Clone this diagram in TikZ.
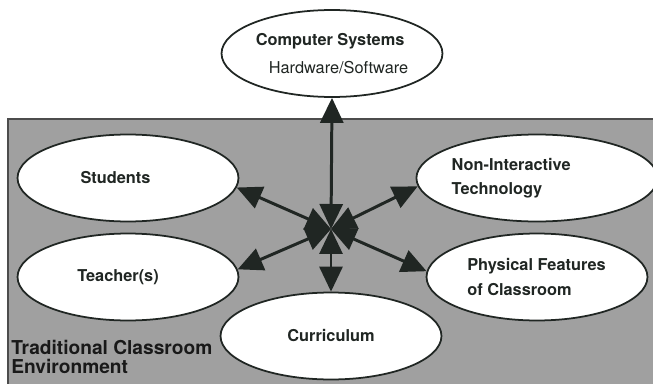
\documentclass[tikz,border=0pt]{standalone}
\usepackage{fontspec}
\setmainfont{TeX Gyre Heros}
\usetikzlibrary{shapes.geometric,arrows.meta}
\definecolor{roomgray}{RGB}{160,160,160}
\definecolor{inkdark}{RGB}{32,38,35}
\tikzset{
  part/.style={ellipse,draw=inkdark,line width=1pt,fill=white,minimum width=4.42cm,
    minimum height=1.74cm,inner sep=0pt,align=left,text=inkdark,
    font=\fontsize{9.3}{14}\selectfont\bfseries},
  link/.style={{Triangle[length=0.5cm,width=0.46cm]}-{Triangle[length=0.5cm,width=0.46cm]},
    line width=1.7pt,draw=inkdark}
}

\begin{document}
\begin{tikzpicture}[x=0.02cm,y=0.02cm]
        \useasboundingbox (0,0) rectangle (653,383);
        % classroom area
        \fill[roomgray,draw=black!70,line width=0.9pt] (8,264) rectangle (655,-2);
        \node[anchor=south west,inner sep=0pt,align=left,text=black!90,
              font=\fontsize{10.9}{10.6}\selectfont\bfseries] (room) at (11,9)
              {Traditional Classroom\\Environment};
        % parts of the environment
        \node[part,font=\fontsize{9.3}{16}\selectfont\bfseries] (sys) at (332,329.5)
              {Computer Systems\\\hspace*{0.26cm}\mdseries Hardware/Software};
        \node[part] (stu) at (128,205) {Students\hspace*{0.5cm}};
        \node[part] (tea) at (128,106) {Teacher(s)\hspace*{0.4cm}};
        \node[part] (non) at (537,205) {Non-Interactive\\Technology\hspace*{1.6cm}};
        \node[part] (phy) at (537,106) {Physical Features\\of Classroom\hspace*{0.7cm}};
        \node[part] (cur) at (331,47) {Curriculum};
        % links out of the hub
        \coordinate (hub) at (331,154);
        \foreach \t in {sys.south,cur.north,stu.-5,tea.4,non.184,phy.177}
            {\draw[link] (hub) -- (\t);}
    \end{tikzpicture}
\end{document}
